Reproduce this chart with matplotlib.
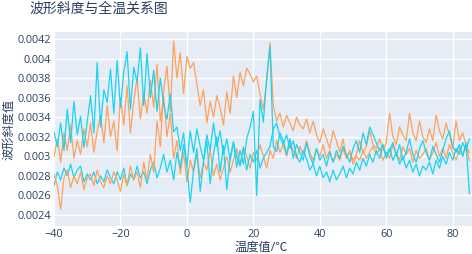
import numpy as np
import matplotlib.pyplot as plt

# 温度 (℃)，每 1℃ 一个采样点
temps = np.arange(-40, 86, 1)

# 波形斜度值，单位 1e-4
orange_a = [28.2, 27.0, 24.6, 27.8, 28.6, 26.8, 28.0, 27.2, 28.4, 26.6, 27.8, 28.2, 27.0, 28.6,
            27.4, 26.8, 28.0, 27.2, 28.4, 27.6, 26.4, 28.2, 27.0, 29.0, 27.6, 28.4, 26.8, 29.4,
            27.6, 30.2, 28.4, 33.6, 31.0, 36.8, 39.2, 34.6, 41.8, 38.0, 40.6, 36.4, 40.2, 39.0,
            39.6, 37.4, 35.2, 36.8, 33.4, 35.6, 34.0, 36.2, 35.0, 33.2, 36.6, 34.4, 38.2, 36.0,
            38.6, 37.2, 39.0, 38.4, 37.6, 38.2, 36.4, 34.8, 37.6, 41.6, 35.2, 33.6, 34.4, 33.0,
            34.2, 33.4, 32.6, 34.0, 33.2, 32.8, 33.8, 32.4, 33.6, 32.2, 31.4, 32.8, 31.8, 30.8,
            32.6, 31.6, 30.4, 31.8, 29.8, 30.6, 29.6, 30.2, 31.6, 30.4, 31.0, 32.6, 31.2, 30.8,
            31.8, 30.6, 31.4, 34.4, 32.0, 31.2, 33.0, 32.2, 31.6, 34.4, 32.4, 31.6, 33.6, 32.0,
            31.4, 32.8, 31.6, 34.2, 32.6, 31.8, 33.4, 32.2, 30.8, 33.6, 31.6, 32.4, 31.2, 29.6]

orange_b = [30.0, 31.8, 29.4, 32.4, 30.6, 33.2, 29.8, 31.6, 30.2, 32.8, 31.0, 33.4, 30.4, 32.6,
            34.2, 31.4, 35.2, 32.0, 33.6, 30.6, 36.0, 33.2, 37.2, 32.4, 35.6, 38.0, 33.8, 36.6,
            34.4, 37.8, 35.0, 39.4, 33.6, 36.2, 32.0, 34.4, 29.8, 31.6, 28.2, 30.4, 27.4, 29.6,
            28.4, 30.2, 27.8, 29.4, 28.6, 30.6, 28.0, 29.2, 27.6, 28.8, 30.0, 28.4, 29.6, 30.8,
            29.2, 31.0, 30.0, 28.8, 30.4, 29.6, 31.2, 30.0, 28.8, 30.6, 29.8, 31.6, 30.4, 31.2,
            30.0, 31.4, 30.6, 29.8, 31.0, 30.2, 31.6, 30.4, 29.6, 30.8, 30.0, 31.2, 29.8, 30.6,
            29.4, 30.2, 29.6, 30.8, 29.8, 30.4, 29.2, 30.0, 29.6, 30.6, 29.8, 30.4, 31.0, 30.2,
            30.8, 29.6, 30.4, 29.8, 31.2, 30.4, 29.6, 31.0, 30.2, 30.8, 29.4, 30.6, 29.8, 30.2,
            30.8, 29.6, 30.4, 31.4, 30.0, 30.8, 29.8, 31.2, 30.4, 29.6, 30.8, 30.0, 31.2, 30.4]

cyan_a = [32.5, 31.0, 33.4, 30.6, 34.8, 31.4, 35.6, 32.2, 34.1, 30.9, 33.5, 36.2, 32.4, 39.6,
          33.0, 36.8, 35.5, 38.9, 34.4, 39.8, 35.0, 38.6, 40.7, 34.8, 39.1, 37.6, 41.1, 35.2,
          40.5, 36.0, 38.8, 34.6, 38.0, 35.3, 33.8, 36.4, 32.5, 33.0, 30.6, 32.4, 28.8, 25.3,
          28.6, 30.8, 26.4, 29.5, 31.6, 27.2, 30.3, 32.0, 28.4, 31.1, 26.6, 29.8, 31.5, 28.9,
          30.6, 29.2, 31.8, 33.0, 34.6, 26.0, 35.8, 33.5, 38.0, 41.2, 31.0, 30.5, 32.4, 31.6,
          30.2, 31.8, 29.8, 31.2, 30.4, 29.6, 31.4, 30.0, 29.2, 30.8, 29.6, 30.2, 29.0, 30.4,
          29.4, 30.6, 29.8, 31.0, 30.2, 29.4, 30.8, 31.6, 30.4, 32.4, 31.2, 33.0, 32.2, 31.4,
          30.6, 31.2, 29.8, 30.6, 31.4, 30.0, 31.2, 29.6, 30.4, 31.8, 30.2, 29.4, 30.8, 31.6,
          30.4, 29.6, 31.0, 30.2, 29.4, 30.6, 31.8, 32.6, 31.0, 30.4, 31.2, 30.0, 31.4, 26.2]

cyan_b = [27.0, 28.4, 27.6, 28.8, 28.0, 29.2, 27.8, 28.6, 29.0, 27.4, 28.2, 27.6, 28.4, 27.2,
          28.0, 27.4, 28.6, 27.8, 27.2, 28.4, 27.6, 28.8, 27.0, 28.2, 27.6, 29.0, 27.8, 28.4,
          27.2, 28.6, 29.4, 27.8, 28.8, 30.2, 28.4, 29.6, 27.6, 30.4, 28.8, 31.2, 29.0, 32.6,
          30.4, 32.8, 31.0, 29.6, 32.2, 30.6, 33.4, 31.0, 32.6, 30.2, 31.8, 29.6, 31.4, 30.0,
          29.0, 30.8, 28.6, 30.2, 29.4, 30.6, 28.8, 29.8, 30.4, 31.0, 32.8, 33.4, 32.0, 31.2,
          32.2, 30.8, 31.6, 30.0, 29.4, 30.6, 29.8, 28.6, 29.2, 28.0, 29.0, 27.8, 28.4, 27.4,
          28.6, 27.6, 28.2, 29.0, 27.8, 28.8, 28.2, 29.4, 28.6, 29.8, 29.0, 30.2, 29.4, 30.6,
          29.8, 31.0, 30.2, 30.8, 29.6, 30.4, 29.2, 30.0, 28.8, 29.6, 28.4, 29.2, 28.0, 29.0,
          28.6, 29.4, 28.2, 29.6, 28.8, 30.0, 29.2, 30.4, 29.6, 30.8, 30.2, 31.4, 30.6, 31.8]

y_ticks = [0.0024, 0.0026, 0.0028, 0.003, 0.0032, 0.0034, 0.0036, 0.0038, 0.004, 0.0042]
x_ticks = [-40, -20, 0, 20, 40, 60, 80]

plt.rcParams['font.family'] = ['Open Sans', 'Noto Sans CJK SC', 'DejaVu Sans']
text_color = '#2a3f5f'

fig = plt.figure(figsize=(4.72, 2.54), dpi=100)
ax = fig.add_axes([54 / 472, 28 / 254, 418 / 472, 194 / 254])
ax.set_facecolor('#E5ECF6')

series = [(orange_b, '#FFA15A'), (cyan_b, '#19D3F3'),
          (orange_a, '#FFA15A'), (cyan_a, '#19D3F3')]
for vals, color in series:
    ax.plot(temps, np.array(vals) * 1e-4, color=color, lw=0.9)

ax.set_xlim(-40, 85.8)
ax.set_ylim(0.002288, 0.004271)
ax.set_xticks(x_ticks)
ax.set_xticklabels([str(t).replace('-', '\u2212') for t in x_ticks])
ax.set_yticks(y_ticks)
ax.set_yticklabels([f'{v:g}' for v in y_ticks])
ax.tick_params(length=0, labelsize=7.8, colors=text_color, pad=2)
ax.grid(color='white', lw=1.0)
ax.set_axisbelow(True)
for sp in ax.spines.values():
    sp.set_visible(False)

# 轴标题与图标题
fig.text(261 / 472, 1 - 247 / 254, '温度值/℃', fontsize=8.8, color=text_color,
         ha='center', va='center')
fig.text(9 / 472, 1 - 129 / 254, '波形斜度值', fontsize=8.8, color=text_color,
         ha='center', va='center', rotation=90)
fig.text(29 / 472, 1 - 9 / 254, '波形斜度与全温关系图', fontsize=10,
         color=text_color, ha='left', va='center')

fig.savefig('out.png', dpi=100)
